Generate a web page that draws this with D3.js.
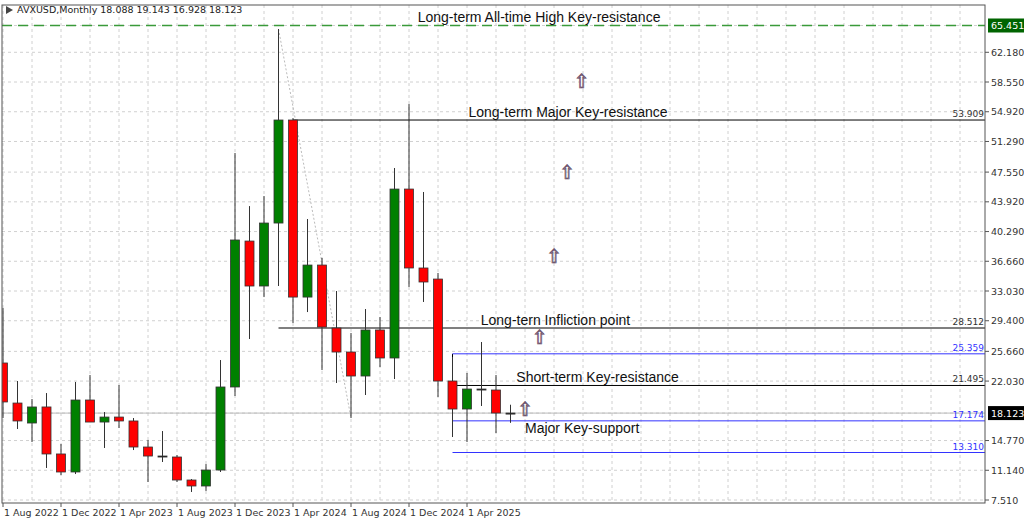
<!DOCTYPE html>
<html><head><meta charset="utf-8">
<script src="https://cdn.jsdelivr.net/npm/d3@7"></script>
<style>body{margin:0;background:#fff}</style>
</head><body><div id="chart"></div>
<script>
// monthly candles, Aug 2022 .. Jul 2025
var months = ["2022-08","2022-09","2022-10","2022-11","2022-12","2023-01","2023-02","2023-03","2023-04","2023-05","2023-06","2023-07",
  "2023-08","2023-09","2023-10","2023-11","2023-12","2024-01","2024-02","2024-03","2024-04","2024-05","2024-06","2024-07",
  "2024-08","2024-09","2024-10","2024-11","2024-12","2025-01","2025-02","2025-03","2025-04","2025-05","2025-06","2025-07"];
var opens  = [24.24,19.35,16.91,18.87,13.13,10.93,19.72,17.03,17.64,17.16,13.98,12.88, 12.76,9.95,9.22,11.17,21.31,39.13,33.64,41.33,53.91,32.29,36.20,28.51, 25.58,22.65,28.27,24.85,45.48,35.84,34.49,22.04,18.62,21.06,20.94,18.088];
var highs  = [30.95,22.04,19.84,20.57,14.35,21.92,22.77,18.25,21.55,17.52,14.84,15.93, 13.00,10.07,11.90,24.60,49.88,43.40,44.63,65.02,54.15,41.82,37.06,33.03, 27.90,30.83,29.85,48.05,55.86,45.12,35.23,24.97,23.02,26.80,22.77,19.143];
var lows   = [17.52,16.18,14.59,11.42,10.56,10.68,17.03,13.86,16.30,13.61,9.71,12.15, 9.71,8.49,8.61,10.93,20.21,27.17,32.29,33.64,29.12,30.46,23.38,21.80, 17.52,20.33,23.75,22.28,33.52,31.69,20.09,15.20,14.59,18.99,15.69,16.928];
var closes = [19.48,17.16,18.87,13.13,10.93,19.72,17.03,17.64,17.16,13.98,12.88,12.76, 9.95,9.22,11.17,21.31,39.26,33.64,41.33,53.91,32.29,36.20,28.63,25.58, 22.65,28.27,24.85,45.48,35.84,34.13,22.04,18.62,21.06,20.98,18.13,18.123];
var yTicks = [62.180,58.550,54.920,51.290,47.550,43.920,40.290,36.660,33.030,29.400,25.660,22.030,14.770,11.140,7.510];
var xLabels = ["1 Aug 2022","1 Dec 2022","1 Apr 2023","1 Aug 2023","1 Dec 2023","1 Apr 2024","1 Aug 2024","1 Dec 2024","1 Apr 2025"];
var levels = [
  {v:65.451, from:-1, color:"#3a9a3a", dash:"10,6", label:""},
  {v:53.909, from:20, color:"#000", dash:null, label:"53.909"},
  {v:28.512, from:19, color:"#000", dash:null, label:"28.512"},
  {v:25.359, from:31, color:"#3333ff", dash:null, label:"25.359"},
  {v:21.495, from:31, color:"#000", dash:null, label:"21.495"},
  {v:17.174, from:31, color:"#3333ff", dash:null, label:"17.174"},
  {v:13.310, from:31, color:"#3333ff", dash:null, label:"13.310"}
];
var notes = [
  {t:"Long-term All-time High Key-resistance", i:28.6, v:65.87},
  {t:"Long-term Major Key-resistance", i:32.1, v:54.27},
  {t:"Long-tern Infliction point", i:32.95, v:28.88},
  {t:"Short-term Key-resistance", i:35.4, v:21.92},
  {t:"Major Key-support", i:36.0, v:15.69}
];
var arrows = [{i:39.9,v:57.8},{i:38.9,v:46.7},{i:38.0,v:36.45},{i:37.0,v:26.56},{i:36.0,v:17.77}];

var W = 1024, H = 522, L = 2, R = 985, T = 5, B = 503;
var svg = d3.select("#chart").append("svg").attr("width", W).attr("height", H)
  .style("font-family", "Tahoma, 'DejaVu Sans', sans-serif");
var x = d3.scaleLinear().domain([0, 1]).range([3, 17.5]);
var y = d3.scaleLinear().domain([7.51, 65.451]).range([500, 25.5]);

// grid
var grid = svg.append("g").attr("stroke", "#d0d0d0").attr("stroke-dasharray", "3,3");
d3.range(0, 68, 2).forEach(function(i) {
  if (x(i) < R) grid.append("line").attr("x1", x(i)).attr("x2", x(i)).attr("y1", T).attr("y2", B);
});
yTicks.concat([65.451, 18.123]).forEach(function(v) {
  grid.append("line").attr("x1", L).attr("x2", R).attr("y1", y(v)).attr("y2", y(v));
});

svg.append("clipPath").attr("id", "c").append("rect").attr("x", L).attr("y", T).attr("width", R - L).attr("height", B - T);
var plot = svg.append("g").attr("clip-path", "url(#c)");

// current price line
plot.append("line").attr("x1", L).attr("x2", R).attr("y1", y(18.123)).attr("y2", y(18.123)).attr("stroke", "#bbb");

// faint trendline
plot.append("line").attr("x1", x(19)).attr("y1", y(65.02)).attr("x2", x(24)).attr("y2", y(17.52))
  .attr("stroke", "#bbb").attr("stroke-dasharray", "2,2");

// vertical dashed marker
plot.append("line").attr("x1", x(31)).attr("x2", x(31)).attr("y1", y(25.359)).attr("y2", y(15.2))
  .attr("stroke", "#000").attr("stroke-dasharray", "4,3");

// levels
levels.forEach(function(d) {
  plot.append("line").attr("x1", d.from < 0 ? L : x(d.from)).attr("x2", R).attr("y1", y(d.v)).attr("y2", y(d.v))
    .attr("stroke", d.color).attr("stroke-width", d.dash ? 1.5 : 1).attr("stroke-dasharray", d.dash);
  if (d.label) svg.append("text").attr("x", R - 1).attr("y", y(d.v) - 3).attr("text-anchor", "end")
    .attr("font-size", 9).attr("fill", d.color === "#000" ? "#333" : d.color).text(d.label);
});

// candles
var candles = plot.selectAll(".cd").data(months).enter().append("g");
candles.append("line")
  .attr("x1", function(d, i) { return x(i); }).attr("x2", function(d, i) { return x(i); })
  .attr("y1", function(d, i) { return y(highs[i]); }).attr("y2", function(d, i) { return y(lows[i]); })
  .attr("stroke", "#333");
candles.append("rect")
  .attr("x", function(d, i) { return x(i) - 4.5; }).attr("width", 9)
  .attr("y", function(d, i) { return y(Math.max(opens[i], closes[i])); })
  .attr("height", function(d, i) { return Math.max(1, Math.abs(y(opens[i]) - y(closes[i]))); })
  .attr("fill", function(d, i) { return Math.abs(opens[i] - closes[i]) < 0.15 ? "#000" : closes[i] > opens[i] ? "#008000" : "#ff0000"; })
  .attr("stroke", "#333").attr("stroke-width", 0.8);

// annotations
notes.forEach(function(n) {
  svg.append("text").attr("x", x(n.i)).attr("y", y(n.v)).attr("font-size", 14)
    .attr("font-family", "Arial, 'Liberation Sans', sans-serif").attr("fill", "#111").text(n.t);
});
arrows.forEach(function(a) {
  svg.append("text").attr("x", x(a.i)).attr("y", y(a.v)).attr("text-anchor", "middle").attr("font-size", 19)
    .attr("font-family", "'DejaVu Sans'").attr("fill", "#fff").attr("stroke", "#503050").attr("stroke-width", 0.6).text("\u21e7");
});

// frame and axes
svg.append("rect").attr("x", L).attr("y", T).attr("width", R - L).attr("height", B - T)
  .attr("fill", "none").attr("stroke", "#555");
var ya = svg.append("g").attr("font-size", 9.5).attr("fill", "#333");
yTicks.forEach(function(v) {
  ya.append("line").attr("x1", R).attr("x2", R + 4).attr("y1", y(v)).attr("y2", y(v)).attr("stroke", "#555");
  ya.append("text").attr("x", R + 6).attr("y", y(v) + 3.5).text(v.toFixed(3));
});
[{v:65.451, c:"#006400"}, {v:18.123, c:"#000"}].forEach(function(p) {
  svg.append("rect").attr("x", R + 3).attr("y", y(p.v) - 7).attr("width", 36).attr("height", 14).attr("fill", p.c);
  svg.append("text").attr("x", R + 6).attr("y", y(p.v) + 3.5).attr("font-size", 9.5).attr("fill", "#fff").text(p.v.toFixed(3));
});
xLabels.forEach(function(t, k) {
  var xi = x(k * 4);
  svg.append("line").attr("x1", xi).attr("x2", xi).attr("y1", B).attr("y2", B + 4).attr("stroke", "#555");
  svg.append("text").attr("x", xi + 1).attr("y", 516).attr("font-size", 9.5).attr("fill", "#333").text(t);
});

// header
svg.append("path").attr("d", "M6,6 L13,10 L6,14 Z").attr("fill", "#444");
svg.append("text").attr("x", 17).attr("y", 13).attr("font-size", 9.5).attr("fill", "#222")
  .text("AVXUSD,Monthly  18.088 19.143 16.928 18.123");
</script>
</body></html>
